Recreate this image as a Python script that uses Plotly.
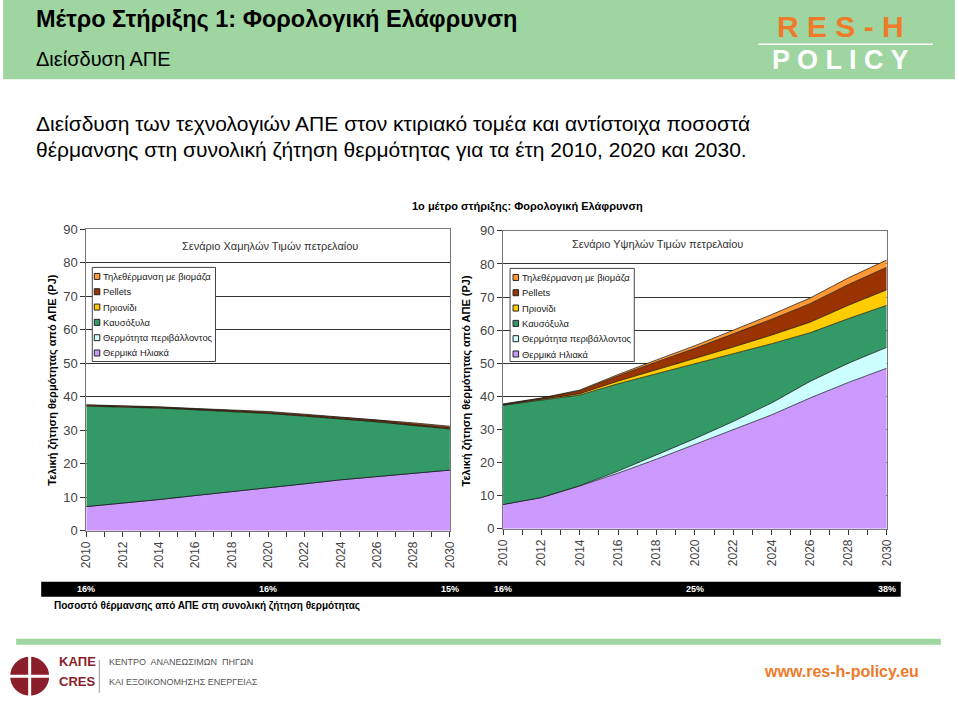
import plotly.graph_objects as go

# ---- data ----
years = list(range(2010, 2031, 2))

series_names = [
    "Θερμικά Ηλιακά",
    "Θερμότητα περιβάλλοντος",
    "Καυσόξυλα",
    "Πριονίδι",
    "Pellets",
    "Τηλεθέρμανση με βιομάζα",
]
series_colors = ["#CC99FF", "#CCFFFF", "#339966", "#FFCC00", "#993300", "#FF9933"]

# low oil price scenario (PJ)
low_solar = [7.2, 8.2, 9.3, 10.5, 11.6, 12.8, 14.0, 15.2, 16.2, 17.2, 18.1]
low_ambient = [0.0, 0.0, 0.0, 0.0, 0.0, 0.0, 0.0, 0.0, 0.0, 0.0, 0.0]
low_firewood = [30.0, 28.8, 27.3, 25.6, 24.0, 22.2, 20.2, 18.2, 16.3, 14.2, 12.3]
low_sawdust = [0.1, 0.1, 0.1, 0.1, 0.1, 0.1, 0.1, 0.1, 0.1, 0.1, 0.1]
low_pellets = [0.2, 0.2, 0.2, 0.2, 0.3, 0.3, 0.3, 0.3, 0.4, 0.4, 0.4]
low_district = [0.1, 0.1, 0.1, 0.1, 0.1, 0.2, 0.2, 0.2, 0.2, 0.3, 0.3]

# high oil price scenario (PJ)
high_solar = [7.3, 9.4, 12.9, 16.8, 21.0, 25.4, 29.9, 34.4, 39.5, 44.2, 48.5]
high_ambient = [0.0, 0.0, 0.1, 0.6, 1.3, 1.8, 2.5, 3.6, 5.0, 5.8, 6.3]
high_firewood = [30.0, 29.4, 27.4, 26.4, 24.5, 22.5, 20.4, 17.9, 14.7, 13.5, 12.7]
high_sawdust = [0.1, 0.2, 0.4, 0.8, 1.2, 1.6, 2.1, 2.6, 3.2, 4.0, 4.7]
high_pellets = [0.2, 0.4, 0.9, 1.6, 2.4, 3.2, 4.0, 4.8, 5.6, 6.3, 6.8]
high_district = [0.1, 0.1, 0.2, 0.4, 0.6, 0.8, 1.1, 1.4, 1.7, 2.0, 2.2]

low_series = [low_solar, low_ambient, low_firewood, low_sawdust, low_pellets, low_district]
high_series = [high_solar, high_ambient, high_firewood, high_sawdust, high_pellets, high_district]

# RES share of total heat demand, at 2010 / 2020 / 2030
share_years = [2010, 2020, 2030]
low_share = ["16%", "16%", "15%"]
high_share = ["16%", "25%", "38%"]

W, H = 959, 708
# the photo comes out with an 8px frame and is shrunk back to 959x708,
# so placements (given in photo pixels) are mapped back to figure pixels
PAD = 8
SX, SY = W / (W + 2 * PAD), H / (H + 2 * PAD)
FONT = "Arial, Liberation Sans, sans-serif"
GREEN = "#9ED5A0"
ORANGE = "#EE7A2A"


def px(x):
    return (x / SX - PAD) / W


def py(y):
    return 1 - (y / SY - PAD) / H


fig = go.Figure()

for series, group in [(low_series, "low"), (high_series, "high")]:
    xa = "x" if group == "low" else "x2"
    ya = "y" if group == "low" else "y2"
    for name, color, vals in zip(series_names, series_colors, series):
        fig.add_trace(go.Scatter(
            x=years, y=vals, name=name, stackgroup=group, mode="lines",
            line=dict(color="#111111", width=0.7), fillcolor=color,
            xaxis=xa, yaxis=ya, showlegend=False, hoverinfo="skip",
        ))

axis_x = dict(range=[2010, 2030], dtick=2, tick0=2010, tickangle=-90, ticks="outside",
              ticklen=5, tickcolor="#333", showgrid=False, zeroline=False,
              showline=True, linecolor="#777", linewidth=1, mirror=True,
              tickfont=dict(family=FONT, size=12, color="#444"),
              minor=dict(dtick=1, ticks="outside", ticklen=5, tickcolor="#333"))
axis_y = dict(range=[0, 90], dtick=10, ticks="outside", ticklen=5, tickcolor="#333",
              showgrid=True, gridcolor="#333", gridwidth=1, zeroline=False,
              showline=True, linecolor="#777", linewidth=1, mirror=True,
              tickfont=dict(family=FONT, size=13, color="#444"))

fig.update_layout(
    width=W, height=H, margin=dict(l=0, r=0, t=0, b=0),
    paper_bgcolor="white", plot_bgcolor="white",
    font=dict(family=FONT), showlegend=False,
    xaxis=dict(axis_x, domain=[px(87), px(450)], anchor="y"),
    yaxis=dict(axis_y, domain=[py(531), py(230)], anchor="x"),
    xaxis2=dict(axis_x, domain=[px(503), px(886)], anchor="y2"),
    yaxis2=dict(axis_y, domain=[py(529), py(231.5)], anchor="x2"),
)

shapes = [
    # header band
    dict(type="rect", xref="paper", yref="paper", x0=px(4), x1=px(954), y0=py(80), y1=py(0),
         fillcolor=GREEN, line_width=0, layer="below"),
    dict(type="line", xref="paper", yref="paper", x0=px(758), x1=px(932), y0=py(45), y1=py(45),
         line=dict(color="white", width=1.5)),
    # share bar
    dict(type="rect", xref="paper", yref="paper", x0=px(42), x1=px(900), y0=py(597), y1=py(582),
         fillcolor="black", line_width=0),
    # footer line
    dict(type="rect", xref="paper", yref="paper", x0=px(17), x1=px(940), y0=py(645), y1=py(639),
         fillcolor=GREEN, line_width=0),
    # CRES emblem
    dict(type="circle", xref="paper", yref="paper", x0=px(11), x1=px(50), y0=py(696), y1=py(657),
         fillcolor="#8B1E2B", line_width=0),
    dict(type="line", xref="paper", yref="paper", x0=px(30.5), x1=px(30.5), y0=py(699), y1=py(654),
         line=dict(color="white", width=3)),
    dict(type="line", xref="paper", yref="paper", x0=px(9), x1=px(52), y0=py(676.5), y1=py(676.5),
         line=dict(color="white", width=3)),
    dict(type="line", xref="paper", yref="paper", x0=px(100), x1=px(100), y0=py(693), y1=py(660),
         line=dict(color="#999", width=1)),
]

ann = []


def text(x, y, s, size, color="black", bold=False, anchor="left", angle=0, family=FONT):
    ann.append(dict(xref="paper", yref="paper", x=px(x), y=py(y), text=f"<b>{s}</b>" if bold else s,
                    showarrow=False, xanchor=anchor, yanchor="middle", textangle=angle,
                    font=dict(family=family, size=size, color=color)))


# legends drawn by hand so the rows stay as compact as in the source
for box, sq_x, row0 in [((93, 216, 268, 362), 95, 277), ((510, 634, 269, 362), 513, 278)]:
    shapes.append(dict(type="rect", xref="paper", yref="paper", x0=px(box[0]), x1=px(box[1]),
                       y0=py(box[3]), y1=py(box[2]), fillcolor="white",
                       line=dict(color="#444", width=1)))
    for i, (name, color) in enumerate(zip(series_names[::-1], series_colors[::-1])):
        yc = row0 + i * 15.3
        shapes.append(dict(type="rect", xref="paper", yref="paper", x0=px(sq_x), x1=px(sq_x + 5.5),
                           y0=py(yc + 3), y1=py(yc - 3), fillcolor=color,
                           line=dict(color="#222", width=1)))
        text(sq_x + 6.5, yc, name, 9.4, color="#222")

fig.update_layout(shapes=shapes)

text(35, 20, "Μέτρο Στήριξης 1: Φορολογική Ελάφρυνση", 23.5, bold=True)
text(35, 60, "Διείσδυση ΑΠΕ", 20)
text(35, 124, "Διείσδυση των τεχνολογιών ΑΠΕ στον κτιριακό τομέα και αντίστοιχα ποσοστά", 21)
text(35, 150, "θέρμανσης στη συνολική ζήτηση θερμότητας για τα έτη 2010, 2020 και 2030.", 21)
text(840, 27, "R E S - H", 30, color=ORANGE, bold=True, anchor="center")
text(840, 61, "P O L I C Y", 27, color="white", bold=True, anchor="center")

text(527, 207, "1ο μέτρο στήριξης: Φορολογική Ελάφρυνση", 11, bold=True, anchor="center")
text(270, 247, "Σενάριο Χαμηλών Τιμών πετρελαίου", 11, color="#333", anchor="center")
text(657, 245, "Σενάριο Υψηλών Τιμών πετρελαίου", 11, color="#333", anchor="center")
ytitle = "Τελική ζήτηση θερμότητας από ΑΠΕ (PJ)"
text(53, 381, ytitle, 11, bold=True, anchor="center", angle=-90)
text(467, 381, ytitle, 11, bold=True, anchor="center", angle=-90)

text(53, 606, "Ποσοστό θέρμανσης από ΑΠΕ στη συνολική ζήτηση θερμότητας", 10, bold=True)

text(58, 662, "ΚΑΠΕ", 13, color="#8B1E2B", bold=True)
text(58, 682, "CRES", 13, color="#8B1E2B", bold=True)
text(108, 662, "ΚΕΝΤΡΟ  ΑΝΑΝΕΩΣΙΜΩΝ  ΠΗΓΩΝ", 9, color="#555")
text(108, 682, "ΚΑΙ ΕΞΟΙΚΟΝΟΜΗΣΗΣ ΕΝΕΡΓΕΙΑΣ", 9, color="#555")
text(920, 672, "www.res-h-policy.eu", 16, color=ORANGE, bold=True, anchor="right")

# share labels on the black bar, aligned with the chart years
for xref, labels in [("x", low_share), ("x2", high_share)]:
    for yr, lab in zip(share_years, labels):
        ann.append(dict(xref=xref, yref="paper", x=yr, y=py(589.5), text=f"<b>{lab}</b>",
                        showarrow=False, xanchor="center", yanchor="middle",
                        font=dict(family=FONT, size=9, color="white")))

fig.update_layout(annotations=ann)

fig.write_html("out.html", config={"displayModeBar": False},
               post_script="document.body.style.margin='0';document.body.style.overflow='hidden';")
